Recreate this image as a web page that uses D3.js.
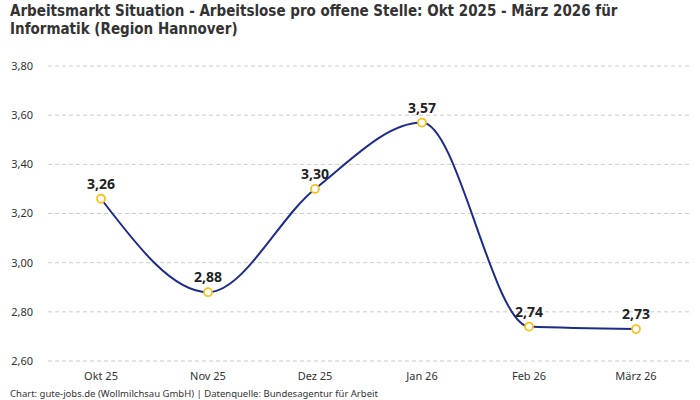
<!DOCTYPE html>
<html>
<head>
    <meta charset="utf-8">
    <style>
        body { margin: 0; background: #fff; }
        svg { display: block; font-family: 'Noto Sans', 'Open Sans', Arial, sans-serif; }
        .title { font-family: 'DejaVu Sans Condensed', 'Liberation Sans Narrow', sans-serif; font-weight: bold; font-size: 15px; fill: #333; }
        .grid line { stroke: #ccc; stroke-dasharray: 4 3; }
    </style>
</head>
<body>
<svg width="700" height="400"></svg>

<script src="https://d3js.org/d3.v7.min.js"></script>
<script>
    // data
    let months = ["Okt 25", "Nov 25", "Dez 25", "Jan 26", "Feb 26", "März 26"]
    let values = [3.26, 2.88, 3.30, 3.57, 2.74, 2.73]
    let yTicks = [2.6, 2.8, 3.0, 3.2, 3.4, 3.6, 3.8]

    let svg = d3.select("svg")

    let x = d3.scalePoint()
        .domain(months)
        .range([101, 636])

    let y = d3.scaleLinear()
        .domain([2.6, 3.8])
        .range([361, 66])

    let fmt = v => d3.format(".2f")(v).replace(".", ",")

    // title
    let title = svg.append("text")
        .attr("class", "title")
    title.append("tspan").attr("x", 10).attr("y", 16).text("Arbeitsmarkt Situation - Arbeitslose pro offene Stelle: Okt 2025 - März 2026 für")
    title.append("tspan").attr("x", 10).attr("y", 34).text("Informatik (Region Hannover)")

    // gridlines + y labels
    svg.append("g").attr("class", "grid")
        .selectAll("line")
        .data(yTicks)
        .join("line")
        .attr("x1", 48)
        .attr("x2", 690)
        .attr("y1", d => y(d))
        .attr("y2", d => y(d))

    svg.append("g")
        .selectAll("text")
        .data(yTicks)
        .join("text")
        .attr("x", 33)
        .attr("y", d => y(d))
        .attr("dy", "0.35em")
        .attr("text-anchor", "end")
        .style("font-size", "11px")
        .style("fill", "#333")
        .text(d => fmt(d))

    // x labels
    svg.append("g")
        .selectAll("text")
        .data(months)
        .join("text")
        .attr("x", d => x(d))
        .attr("y", 376)
        .attr("dy", "0.35em")
        .attr("text-anchor", "middle")
        .style("font-size", "11px")
        .style("fill", "#333")
        .text(d => d)

    let points = months.map((m, i) => ({ m: m, v: values[i] }))

    let line = d3.line()
        .x(d => x(d.m))
        .y(d => y(d.v))
        .curve(d3.curveMonotoneX)

    svg.append("path")
        .datum(points)
        .attr("d", line)
        .attr("fill", "none")
        .attr("stroke", "#1c2b8c")
        .attr("stroke-width", 2)

    svg.append("g")
        .selectAll("circle")
        .data(points)
        .join("circle")
        .attr("cx", d => x(d.m))
        .attr("cy", d => y(d.v))
        .attr("r", 4)
        .attr("fill", "#fff")
        .attr("stroke", "#f7c31a")
        .attr("stroke-width", 1.8)

    svg.append("g")
        .selectAll("text")
        .data(points)
        .join("text")
        .attr("x", d => x(d.m))
        .attr("y", d => y(d.v) - 10)
        .attr("text-anchor", "middle")
        .style("font-size", "14px")
        .style("font-weight", "bold")
        .style("fill", "#222")
        .text(d => fmt(d.v))

    // footer
    svg.append("text")
        .attr("x", 10)
        .attr("y", 397)
        .style("font-size", "9.5px")
        .style("fill", "#333")
        .text("Chart: gute-jobs.de (Wollmilchsau GmbH) | Datenquelle: Bundesagentur für Arbeit")
</script>
</body>
</html>
